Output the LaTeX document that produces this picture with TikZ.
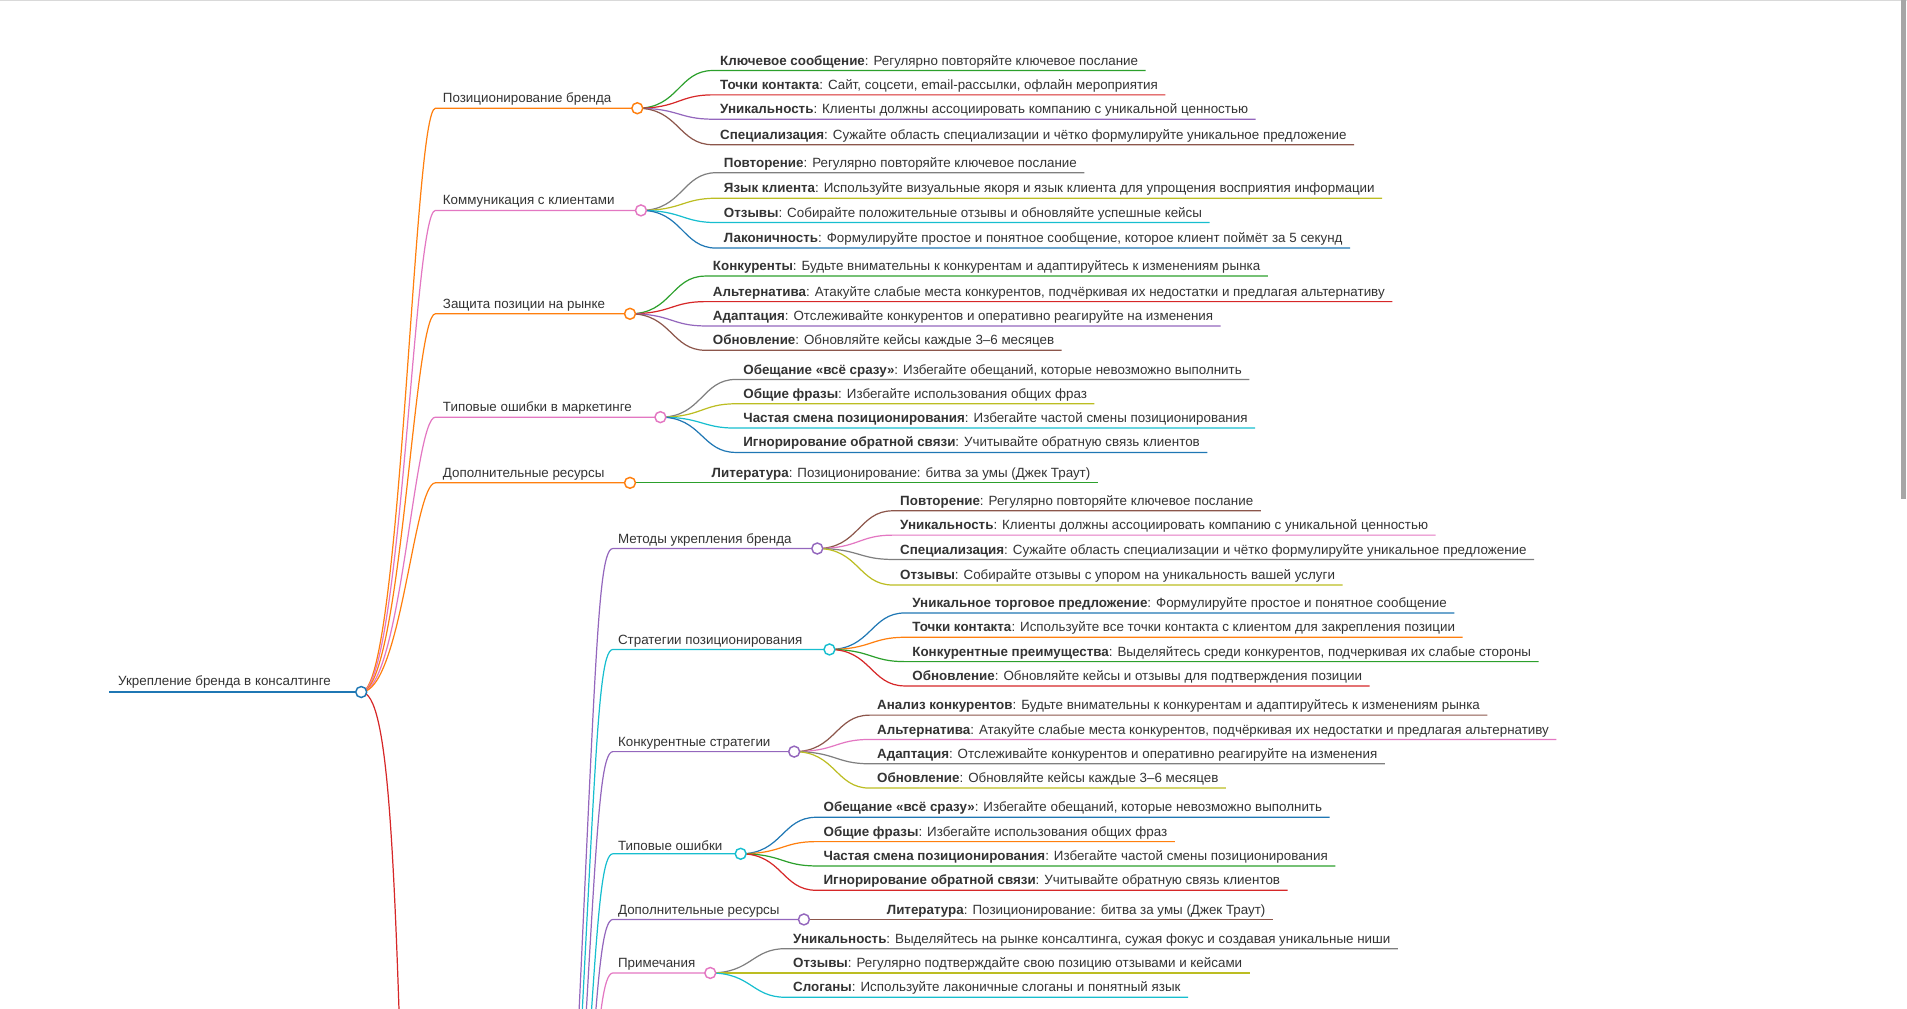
\documentclass[tikz,border=0pt]{standalone}
\usepackage{fontspec}
\setmainfont{Liberation Sans}
\usetikzlibrary{calc, positioning}
\definecolor{cblue}{HTML}{1F77B4}
\definecolor{corange}{HTML}{FF7F0E}
\definecolor{cgreen}{HTML}{2CA02C}
\definecolor{cred}{HTML}{D62728}
\definecolor{cpurple}{HTML}{9467BD}
\definecolor{cbrown}{HTML}{8C564B}
\definecolor{cpink}{HTML}{E377C2}
\definecolor{cgray}{HTML}{7F7F7F}
\definecolor{colive}{HTML}{BCBD22}
\definecolor{ccyan}{HTML}{17BECF}
\definecolor{txt}{HTML}{333333}
\tikzset{
    leaf/.style  = {draw=none, inner sep=0pt, anchor=south west, text=txt, font=\fontsize{11}{13}\selectfont},
    topic/.style = {leaf},
    link/.style  = {line width=1pt},
    knob/.style  = {circle, draw, fill=white, line width=1.2pt, minimum size=9pt, inner sep=0pt}
}
% #1 circle x, #2 circle y, #3 text x, #4 colour, #5 leaves
\newcommand\mmleaves[5]{%
  \foreach \ly/\col/\key/\rest [count=\i] in {#5}{
    \node[leaf] (lf\i) at (#3,\ly-2) {\textbf{\key}: \rest};
    \draw[link, \col] (#1,#2) .. controls ({(#1+#3)/2},#2) and ({(#1+#3)/2},\ly) .. (#3-6,\ly)
      -- ($(lf\i.south east)+(6,2)$);
  }
  \node[knob, draw=#4] at (#1,#2) {};
}

\begin{document}
\begin{tikzpicture}[x=1pt, y=-1pt]
\useasboundingbox (0,0) rectangle (1568,829);
\clip (0,0) rectangle (1568,829);
\draw[gray!30] (0,0.5) -- (1568,0.5);
\fill[gray!70] (1563,0) rectangle (1567,410);

\coordinate (root) at (297,569);
\coordinate (hid) at (455,1250);

% hidden parent below
\foreach \ly/\cx/\col/\lab in {451/672/cpurple/Методы укрепления бренда,
  534/682/ccyan/Стратегии позиционирования, 618/653/cpurple/Конкурентные стратегии,
  702/609/ccyan/Типовые ошибки, 756/661/cpurple/Дополнительные ресурсы, 800/584/cpink/Примечания}{
  \draw[link, \col] (hid) .. controls (490,\ly+150) and (488,\ly) .. (504,\ly) -- (\cx,\ly);
  \node[topic] at (508,\ly-2) {\lab};
}

% main branches
\draw[link, cred] (root) .. controls (320,569) and (325,700) .. (333,1000);
\foreach \ly/\cx/\col/\lab in {89/524/corange/Позиционирование бренда,
  173/527/cpink/Коммуникация с клиентами, 258/518/corange/Защита позиции на рынке,
  343/543/cpink/Типовые ошибки в маркетинге, 397/518/corange/Дополнительные ресурсы}{
  \draw[link, \col] (root) .. controls (330,569) and (340,\ly) .. (358,\ly) -- (\cx,\ly);
  \node[topic] at (364,\ly-2) {\lab};
}

\mmleaves{524}{89}{592}{corange}{
  58/cgreen/Ключевое сообщение/Регулярно повторяйте ключевое послание,
  78/cred/Точки контакта/{Сайт, соцсети, email-рассылки, офлайн мероприятия},
  98/cpurple/Уникальность/Клиенты должны ассоциировать компанию с уникальной ценностью,
  119/cbrown/Специализация/Сужайте область специализации и чётко формулируйте уникальное предложение}
\mmleaves{527}{173}{595}{cpink}{
  142/cgray/Повторение/Регулярно повторяйте ключевое послание,
  163/colive/Язык клиента/Используйте визуальные якоря и язык клиента для упрощения восприятия информации,
  183/ccyan/Отзывы/Собирайте положительные отзывы и обновляйте успешные кейсы,
  204/cblue/Лаконичность/{Формулируйте простое и понятное сообщение, которое клиент поймёт за 5 секунд}}
\mmleaves{518}{258}{586}{corange}{
  227/cgreen/Конкуренты/Будьте внимательны к конкурентам и адаптируйтесь к изменениям рынка,
  248/cred/Альтернатива/{Атакуйте слабые места конкурентов, подчёркивая их недостатки и предлагая альтернативу},
  268/cpurple/Адаптация/Отслеживайте конкурентов и оперативно реагируйте на изменения,
  288/cbrown/Обновление/Обновляйте кейсы каждые 3–6 месяцев}
\mmleaves{543}{343}{611}{cpink}{
  312/cgray/Обещание «всё сразу»/{Избегайте обещаний, которые невозможно выполнить},
  332/colive/Общие фразы/Избегайте использования общих фраз,
  352/ccyan/Частая смена позиционирования/Избегайте частой смены позиционирования,
  372/cblue/Игнорирование обратной связи/Учитывайте обратную связь клиентов}
\mmleaves{518}{397}{585}{corange}{
  397/cgreen/Литература/Позиционирование: битва за умы (Джек Траут)}

\mmleaves{672}{451}{740}{cpurple}{
  420/cbrown/Повторение/Регулярно повторяйте ключевое послание,
  440/cpink/Уникальность/Клиенты должны ассоциировать компанию с уникальной ценностью,
  460/cgray/Специализация/Сужайте область специализации и чётко формулируйте уникальное предложение,
  481/colive/Отзывы/Собирайте отзывы с упором на уникальность вашей услуги}
\mmleaves{682}{534}{750}{ccyan}{
  504/cblue/Уникальное торговое предложение/Формулируйте простое и понятное сообщение,
  524/corange/Точки контакта/Используйте все точки контакта с клиентом для закрепления позиции,
  544/cgreen/Конкурентные преимущества/{Выделяйтесь среди конкурентов, подчеркивая их слабые стороны},
  564/cred/Обновление/Обновляйте кейсы и отзывы для подтверждения позиции}
\mmleaves{653}{618}{721}{cpurple}{
  588/cbrown/Анализ конкурентов/Будьте внимательны к конкурентам и адаптируйтесь к изменениям рынка,
  608/cpink/Альтернатива/{Атакуйте слабые места конкурентов, подчёркивая их недостатки и предлагая альтернативу},
  628/cgray/Адаптация/Отслеживайте конкурентов и оперативно реагируйте на изменения,
  648/colive/Обновление/Обновляйте кейсы каждые 3–6 месяцев}
\mmleaves{609}{702}{677}{ccyan}{
  672/cblue/Обещание «всё сразу»/{Избегайте обещаний, которые невозможно выполнить},
  692/corange/Общие фразы/Избегайте использования общих фраз,
  712/cgreen/Частая смена позиционирования/Избегайте частой смены позиционирования,
  732/cred/Игнорирование обратной связи/Учитывайте обратную связь клиентов}
\mmleaves{661}{756}{729}{cpurple}{
  756/cbrown/Литература/Позиционирование: битва за умы (Джек Траут)}
\mmleaves{584}{800}{652}{cpink}{
  780/cgray/Уникальность/{Выделяйтесь на рынке консалтинга, сужая фокус и создавая уникальные ниши},
  800/colive/Отзывы/Регулярно подтверждайте свою позицию отзывами и кейсами,
  820/ccyan/Слоганы/Используйте лаконичные слоганы и понятный язык}

% root
\draw[cblue, line width=2pt] (90,569) -- (root);
\node[topic] (rootlbl) at (97,566) {Укрепление бренда в консалтинге};
\node[knob, draw=cblue] at (root) {};
\end{tikzpicture}
\end{document}
